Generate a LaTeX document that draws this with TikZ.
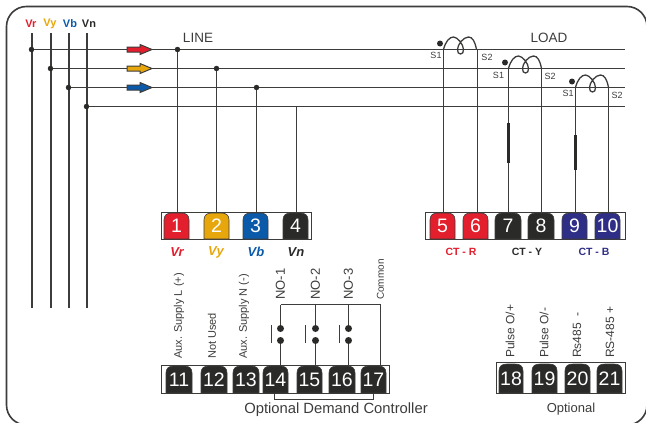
\documentclass[tikz,border=0pt]{standalone}
\usepackage{fontspec}
\setmainfont{Liberation Sans}
\definecolor{wire}{HTML}{3C3C3B}
\definecolor{phr}{HTML}{E31E2D}
\definecolor{phy}{HTML}{E7A70C}
\definecolor{phb}{HTML}{0B5AA9}
\definecolor{phn}{HTML}{2A2A29}
\definecolor{ctb}{HTML}{2F2E87}
\newcommand{\px}[1]{\fontsize{#1}{#1}\selectfont}
\tikzset{>=latex,
  wireline/.style={draw=wire,line width=1.7pt},
  busline/.style={draw=wire,line width=2pt},
  strip/.style={draw=wire,line width=1.5pt,fill=white},
  dot/.style={circle,fill=wire!70!black,inner sep=0pt,minimum size=#1},
  dot/.default=5.5pt,
  tabnum/.style={inner sep=0pt,text=white,font=\px{19.5}},
  phase/.style={font=\px{11}\bfseries,text=#1},
  tag/.style={font=\px{13}\bfseries\itshape,text=#1},
  cttag/.style={font=\px{10.5}\bfseries,text=#1},
  slabel/.style={font=\px{9},text=wire,inner sep=0pt},
  side/.style={font=\px{#1},text=wire,rotate=90,anchor=west,inner sep=0pt},
  caption/.style={font=\px{#1},text=wire,inner sep=0pt}
}
% one terminal: left, right, top, bottom, colour, number
\newcommand{\terminal}[6]{
  \fill[#5,draw=wire,line width=.6pt] (#1,#4) -- (#1,#3+7) .. controls (#1,#3+2) and (#1+3,#3) .. (#1+8,#3) -- (#2-8,#3) .. controls (#2-3,#3) and (#2,#3+2) .. (#2,#3+7) -- (#2,#4) -- cycle;
  \node[tabnum,minimum width=#2pt-#1pt,minimum height=#4pt-#3pt] (t#6) at ({(#1+#2)/2},{(#3+#4)/2}) {#6};
}
\begin{document}
\begin{tikzpicture}[x=1pt,y=-1pt]
\useasboundingbox (0,0) rectangle (646,423);
% outer frame
\draw[draw=wire,line width=1.6pt,rounded corners=20pt] (6.5,6.5) rectangle (647,425);

% supply
\foreach \name/\xa/\yb/\tx/\col/\lab in {r/31.5/49.5/31/phr/Vr,y/50.5/68.5/50/phy/Vy,b/68.5/87.5/70/phb/Vb,n/86.5/106.5/89/phn/Vn}{
  \node[phase=\col] (v\name) at (\tx,24) {\lab};
  \coordinate (top\name) at (\xa,33);
  \coordinate (low\name) at (\xa,308);
  \draw[busline] (top\name) -- (low\name);
  \node[dot] (j\name) at (\xa,\yb) {};
  \coordinate (end\name) at (624.5,\yb);
  \draw[wireline] (j\name) -- (end\name);
}
\foreach \yb/\col in {49.5/phr,68.5/phy,87.5/phb}
  \draw[draw=wire,line width=1pt,fill=\col] (127,\yb-2.5) -- (140,\yb-2.5) -- (140,\yb-5) -- (152,\yb) -- (140,\yb+5) -- (140,\yb+2.5) -- (127,\yb+2.5) -- cycle;
\node[font=\px{13.5},text=wire] (line) at (198,38) {LINE};
\node[font=\px{13.5},text=wire] (load) at (549,38) {LOAD};

% terminals 1-4
\draw[strip] (161.5,212.5) rectangle (311.5,239.5);
\terminal{164}{189}{213}{239}{phr}{1}
\terminal{204}{229}{213}{239}{phy}{2}
\terminal{243}{268}{213}{239}{phb}{3}
\terminal{283}{308}{213}{239}{phn}{4}
\node[dot] (tap1) at (177.5,49.5) {};
\node[dot] (tap2) at (216.5,68.5) {};
\node[dot] (tap3) at (256.5,87.5) {};
\coordinate (tap4) at (296.5,106.5);
\foreach \n in {1,2,3,4}
  \draw[wireline] (tap\n) -- (tap\n |- t\n.north);
\node[tag=phr] (tagr) at (177,252) {Vr};
\node[tag=phy] (tagy) at (216,252) {Vy};
\node[tag=phb] (tagb) at (256,252) {Vb};
\node[tag=phn] (tagn) at (296,252) {Vn};

% terminals 5-10
\draw[strip] (425.5,212.5) rectangle (625.5,239.5);
\terminal{430}{455}{213}{239}{phr}{5}
\terminal{463}{488}{213}{239}{phr}{6}
\terminal{495}{521}{213}{239}{phn}{7}
\terminal{528}{554}{213}{239}{phn}{8}
\terminal{562}{587}{213}{239}{ctb}{9}
\terminal{595}{620}{213}{239}{ctb}{10}
\node[cttag=phr] (ctr) at (461,252) {CT - R};
\node[cttag=phn] (cty) at (527,252) {CT - Y};
\node[cttag=ctb] (ctb) at (594,252) {CT - B};

% current transformers
\coordinate (s5) at (443.5,49.5);  \coordinate (s6) at (477.5,49.5);
\coordinate (s7) at (508.5,68.5);  \coordinate (s8) at (541.5,68.5);
\coordinate (s9) at (575.5,87.5);  \coordinate (s10) at (608.5,87.5);
\foreach \n in {5,6,7,8,9,10}
  \draw[wireline] (s\n) -- (s\n |- t\n.north);
\foreach \xa/\yb in {443.5/49.5,508.5/68.5,575.5/87.5}
  \draw[wireline,line width=1.3pt,shift={(\xa,\yb)}] (0,0) .. controls (2,-8) and (6,-12.5) .. (10,-12.5) .. controls (14,-12.5) and (20,-5) .. (20,0) .. controls (20,3) and (19,4.5) .. (17,4.5) .. controls (15,4.5) and (14,3) .. (14,0) .. controls (14,-5) and (20,-12.5) .. (25,-12.5) .. controls (29,-12.5) and (31.5,-8) .. (33,0);
\node[dot=6pt] (pol1) at (440,43.5) {};
\node[dot=6pt] (pol2) at (505,62.5) {};
\node[dot=6pt] (pol3) at (572,81.5) {};
\node[slabel] (s1a) at (436,55.5) {S1};
\node[slabel] (s2a) at (487,57) {S2};
\node[slabel] (s1b) at (498.5,75) {S1};
\node[slabel] (s2b) at (550,76) {S2};
\node[slabel] (s1c) at (568,93.5) {S1};
\node[slabel] (s2c) at (617,95) {S2};
\coordinate (th1a) at (508.5,123); \coordinate (th1b) at (508.5,163);
\coordinate (th2a) at (575.5,135); \coordinate (th2b) at (575.5,170);
\draw[draw=wire!70!black,line width=2.4pt] (th1a) -- (th1b);
\draw[draw=wire!70!black,line width=2.4pt] (th2a) -- (th2b);

% terminals 11-17
\draw[strip] (161.5,365.5) rectangle (389.5,393.5);
\terminal{166}{192}{366}{393}{phn}{11}
\terminal{201}{227}{366}{393}{phn}{12}
\terminal{233}{259}{366}{393}{phn}{13}
\terminal{263}{288}{366}{393}{phn}{14}
\terminal{297}{322}{366}{393}{phn}{15}
\terminal{329}{355}{366}{393}{phn}{16}
\terminal{361}{386}{366}{393}{phn}{17}
\node[side=11] (aux1) at (179,359) {Aux. Supply L (+)};
\node[side=11] (nu) at (212,359) {Not Used};
\node[side=11] (aux2) at (244,359) {Aux. Supply N (-)};
\node[side=13] (no1) at (280.5,300) {NO-1};
\node[side=13] (no2) at (315.5,300) {NO-2};
\node[side=13] (no3) at (348.5,300) {NO-3};
\node[side=10] (com) at (380.5,300) {Common};

% relay contacts
\coordinate (railr) at (380.5,304.5);
\foreach \n/\sx/\bx in {14/280.5/271.5,15/315.5/305.5,16/348.5/339.5}{
  \node[dot=7pt] (up\n) at (\sx,328.5) {};
  \node[dot=7pt] (dn\n) at (\sx,340.5) {};
  \coordinate (rail\n) at (\sx,304.5);
  \coordinate (bara\n) at (\bx,325);
  \coordinate (barb\n) at (\bx,343);
  \draw[wireline] (up\n) -- (rail\n);
  \draw[wireline] (dn\n) -- (dn\n |- t\n.north);
  \draw[wireline] (bara\n) -- (barb\n);
}
\draw[wireline] (rail14) -- (railr) -- (railr |- t17.north);
\coordinate (bra) at (274.5,393.5); \coordinate (brb) at (373.5,393.5);
\draw[wireline] (bra) -- ++(0,6) -| (brb);
\node[caption=14.8] (odc) at (336,410) {Optional Demand Controller};

% terminals 18-21
\draw[strip] (496.5,362.5) rectangle (625.5,393.5);
\terminal{499}{523}{364}{393}{phn}{18}
\terminal{532}{557}{364}{393}{phn}{19}
\terminal{565}{590}{364}{393}{phn}{20}
\terminal{597}{622}{364}{393}{phn}{21}
\node[side=12] (po1) at (510,358) {Pulse O/+};
\node[side=12] (po2) at (544,358) {Pulse O/-};
\node[side=12] (rs1) at (577,358) {Rs485\ \ -};
\node[side=12] (rs2) at (610,358) {RS-485 +};
\node[caption=13] (opt) at (571,409) {Optional};
\end{tikzpicture}
\end{document}
